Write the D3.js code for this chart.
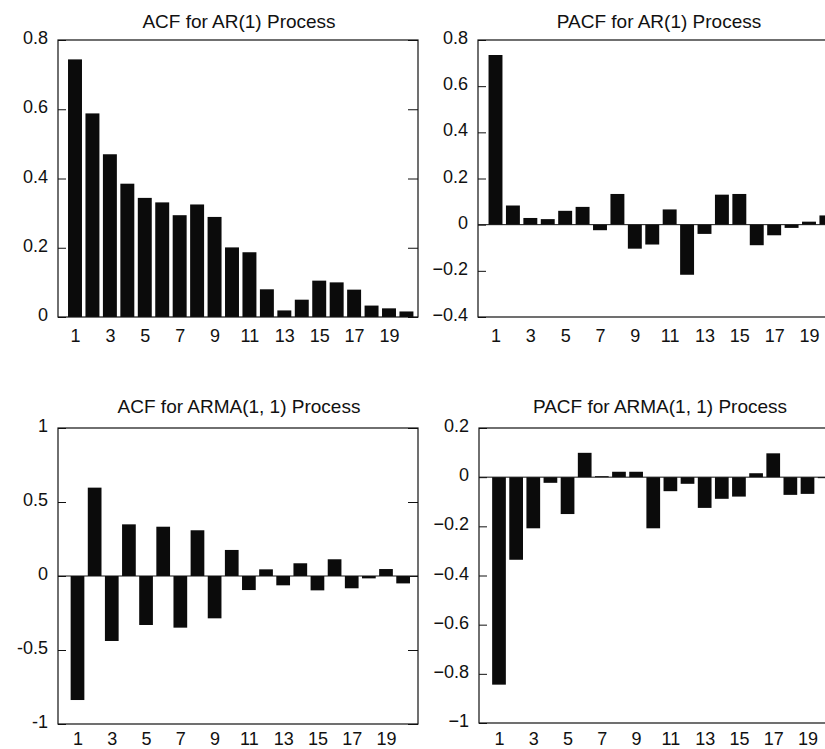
<!DOCTYPE html>
<html>
<head>
<meta charset="utf-8">
<script src="https://cdn.jsdelivr.net/npm/d3@7"></script>
<style>
  body { margin: 0; background: #fff; }
  svg { display: block; }
  text { font-family: "Liberation Sans", Arial, sans-serif; fill: #111; }
</style>
</head>
<body>
<svg id="chart"></svg>
<script>
// lags 1..20 on every panel
const lags = [1, 2, 3, 4, 5, 6, 7, 8, 9, 10, 11, 12, 13, 14, 15, 16, 17, 18, 19, 20];
const lagTicks = [1, 3, 5, 7, 9, 11, 13, 15, 17, 19];

// values
const acfAR1 = [0.744, 0.588, 0.470, 0.385, 0.344, 0.331, 0.294, 0.325, 0.289, 0.201,
  0.187, 0.080, 0.019, 0.050, 0.105, 0.100, 0.079, 0.033, 0.025, 0.016];
const pacfAR1 = [0.735, 0.083, 0.029, 0.024, 0.060, 0.077, -0.024, 0.133, -0.104, -0.086,
  0.066, -0.217, -0.040, 0.130, 0.133, -0.089, -0.046, -0.014, 0.013, 0.040];
const acfARMA = [-0.838, 0.597, -0.439, 0.349, -0.331, 0.333, -0.349, 0.309, -0.286, 0.176,
  -0.095, 0.045, -0.063, 0.086, -0.097, 0.113, -0.083, -0.016, 0.047, -0.050];
const pacfARMA = [-0.844, -0.336, -0.208, -0.023, -0.150, 0.099, 0.004, 0.022, 0.022, -0.208,
  -0.057, -0.027, -0.125, -0.088, -0.079, 0.016, 0.097, -0.072, -0.068, 0.0];

// y ticks and their printed labels
const ticksAcfAR1 = [0, 0.2, 0.4, 0.6, 0.8];
const labelsAcfAR1 = ["0", "0.2", "0.4", "0.6", "0.8"];
const ticksPacfAR1 = [-0.4, -0.2, 0, 0.2, 0.4, 0.6, 0.8];
const labelsPacfAR1 = ["\u22120.4", "\u22120.2", "0", "0.2", "0.4", "0.6", "0.8"];
const ticksAcfARMA = [-1, -0.5, 0, 0.5, 1];
const labelsAcfARMA = ["-1", "-0.5", "0", "0.5", "1"];
const ticksPacfARMA = [-1, -0.8, -0.6, -0.4, -0.2, 0, 0.2];
const labelsPacfARMA = ["\u22121", "\u22120.8", "\u22120.6", "\u22120.4", "\u22120.2", "0", "0.2"];

const titles = ["ACF for AR(1) Process", "PACF for AR(1) Process",
  "ACF for ARMA(1, 1) Process", "PACF for ARMA(1, 1) Process"];

const width = 825, height = 749;
const frameW = 360;

// panel layout: frame box, where lag 1 and lag 19 sit, title baseline
const panels = [
  { title: titles[0], values: acfAR1, ticks: ticksAcfAR1, labels: labelsAcfAR1,
    left: 58, top: 40, bottom: 317, domain: [0, 0.8], lagAt: [75, 389], titleY: 28, zero: false, lagPad: 12 },
  { title: titles[1], values: pacfAR1, ticks: ticksPacfAR1, labels: labelsPacfAR1,
    left: 478, top: 40, bottom: 317, domain: [-0.4, 0.8], lagAt: [495.5, 809], titleY: 28, zero: true, lagPad: 12 },
  { title: titles[2], values: acfARMA, ticks: ticksAcfARMA, labels: labelsAcfARMA,
    left: 58, top: 428, bottom: 724, domain: [-1, 1], lagAt: [77.5, 386], titleY: 413, zero: true, lagPad: 8 },
  { title: titles[3], values: pacfARMA, ticks: ticksPacfARMA, labels: labelsPacfARMA,
    left: 479, top: 428, bottom: 723, domain: [-1, 0.2], lagAt: [499, 807.5], titleY: 413, zero: true, lagPad: 9 }
];

const svg = d3.select("#chart").attr("width", width).attr("height", height);
svg.append("rect").attr("width", width).attr("height", height).attr("fill", "#fff");

panels.forEach(function (p) {
  const g = svg.append("g");
  const right = p.left + frameW;

  const x = d3.scaleLinear().domain([1, 19]).range(p.lagAt);
  const y = d3.scaleLinear().domain(p.domain).range([p.bottom, p.top]);
  const barW = (x(2) - x(1)) * 0.8;

  // bars
  g.append("g")
    .selectAll("rect")
    .data(lags)
    .join("rect")
    .attr("x", (d) => x(d) - barW / 2)
    .attr("width", barW)
    .attr("y", (d, i) => y(Math.max(0, p.values[i])))
    .attr("height", (d, i) => Math.max(1, Math.abs(y(p.values[i]) - y(0))))
    .attr("fill", "#0b0b0b");

  // zero line
  if (p.zero) {
    g.append("line")
      .attr("x1", p.left).attr("x2", right)
      .attr("y1", y(0)).attr("y2", y(0))
      .attr("stroke", "#111").attr("stroke-width", 1);
  }

  // left axis, ticks pointing inside
  const yAxis = d3.axisLeft(y)
    .tickValues(p.ticks)
    .tickFormat((d, i) => p.labels[i])
    .tickSizeInner(-8)
    .tickSizeOuter(0)
    .tickPadding(10);
  g.append("g")
    .attr("transform", `translate(${p.left},0)`)
    .call(yAxis)
    .call((a) => a.select(".domain").remove())
    .call((a) => a.selectAll("line").attr("stroke", "#111"))
    .call((a) => a.selectAll("text")
      .attr("font-size", 18)
      .attr("font-family", '"Liberation Sans", Arial, sans-serif')
      .attr("fill", "#111")
      .attr("dy", "0.2em"));

  // right side ticks, no labels
  g.append("g")
    .attr("transform", `translate(${right},0)`)
    .call(d3.axisRight(y).tickValues(p.ticks).tickFormat("").tickSizeInner(-10).tickSizeOuter(0))
    .call((a) => a.select(".domain").remove())
    .call((a) => a.selectAll("line").attr("stroke", "#111"));

  // lag labels under the frame
  g.append("g")
    .attr("transform", `translate(0,${p.bottom})`)
    .call(d3.axisBottom(x).tickValues(lagTicks).tickFormat(d3.format("d")).tickSize(0).tickPadding(p.lagPad))
    .call((a) => a.select(".domain").remove())
    .call((a) => a.selectAll("text")
      .attr("font-size", 18)
      .attr("font-family", '"Liberation Sans", Arial, sans-serif')
      .attr("fill", "#111"));

  // frame
  g.append("rect")
    .attr("x", p.left).attr("y", p.top)
    .attr("width", frameW).attr("height", p.bottom - p.top)
    .attr("fill", "none").attr("stroke", "#111").attr("stroke-width", 1.2);

  // title
  g.append("text")
    .attr("x", p.left + frameW / 2 + 1)
    .attr("y", p.titleY)
    .attr("text-anchor", "middle")
    .attr("font-size", 19)
    .text(p.title);
});
</script>
</body>
</html>
